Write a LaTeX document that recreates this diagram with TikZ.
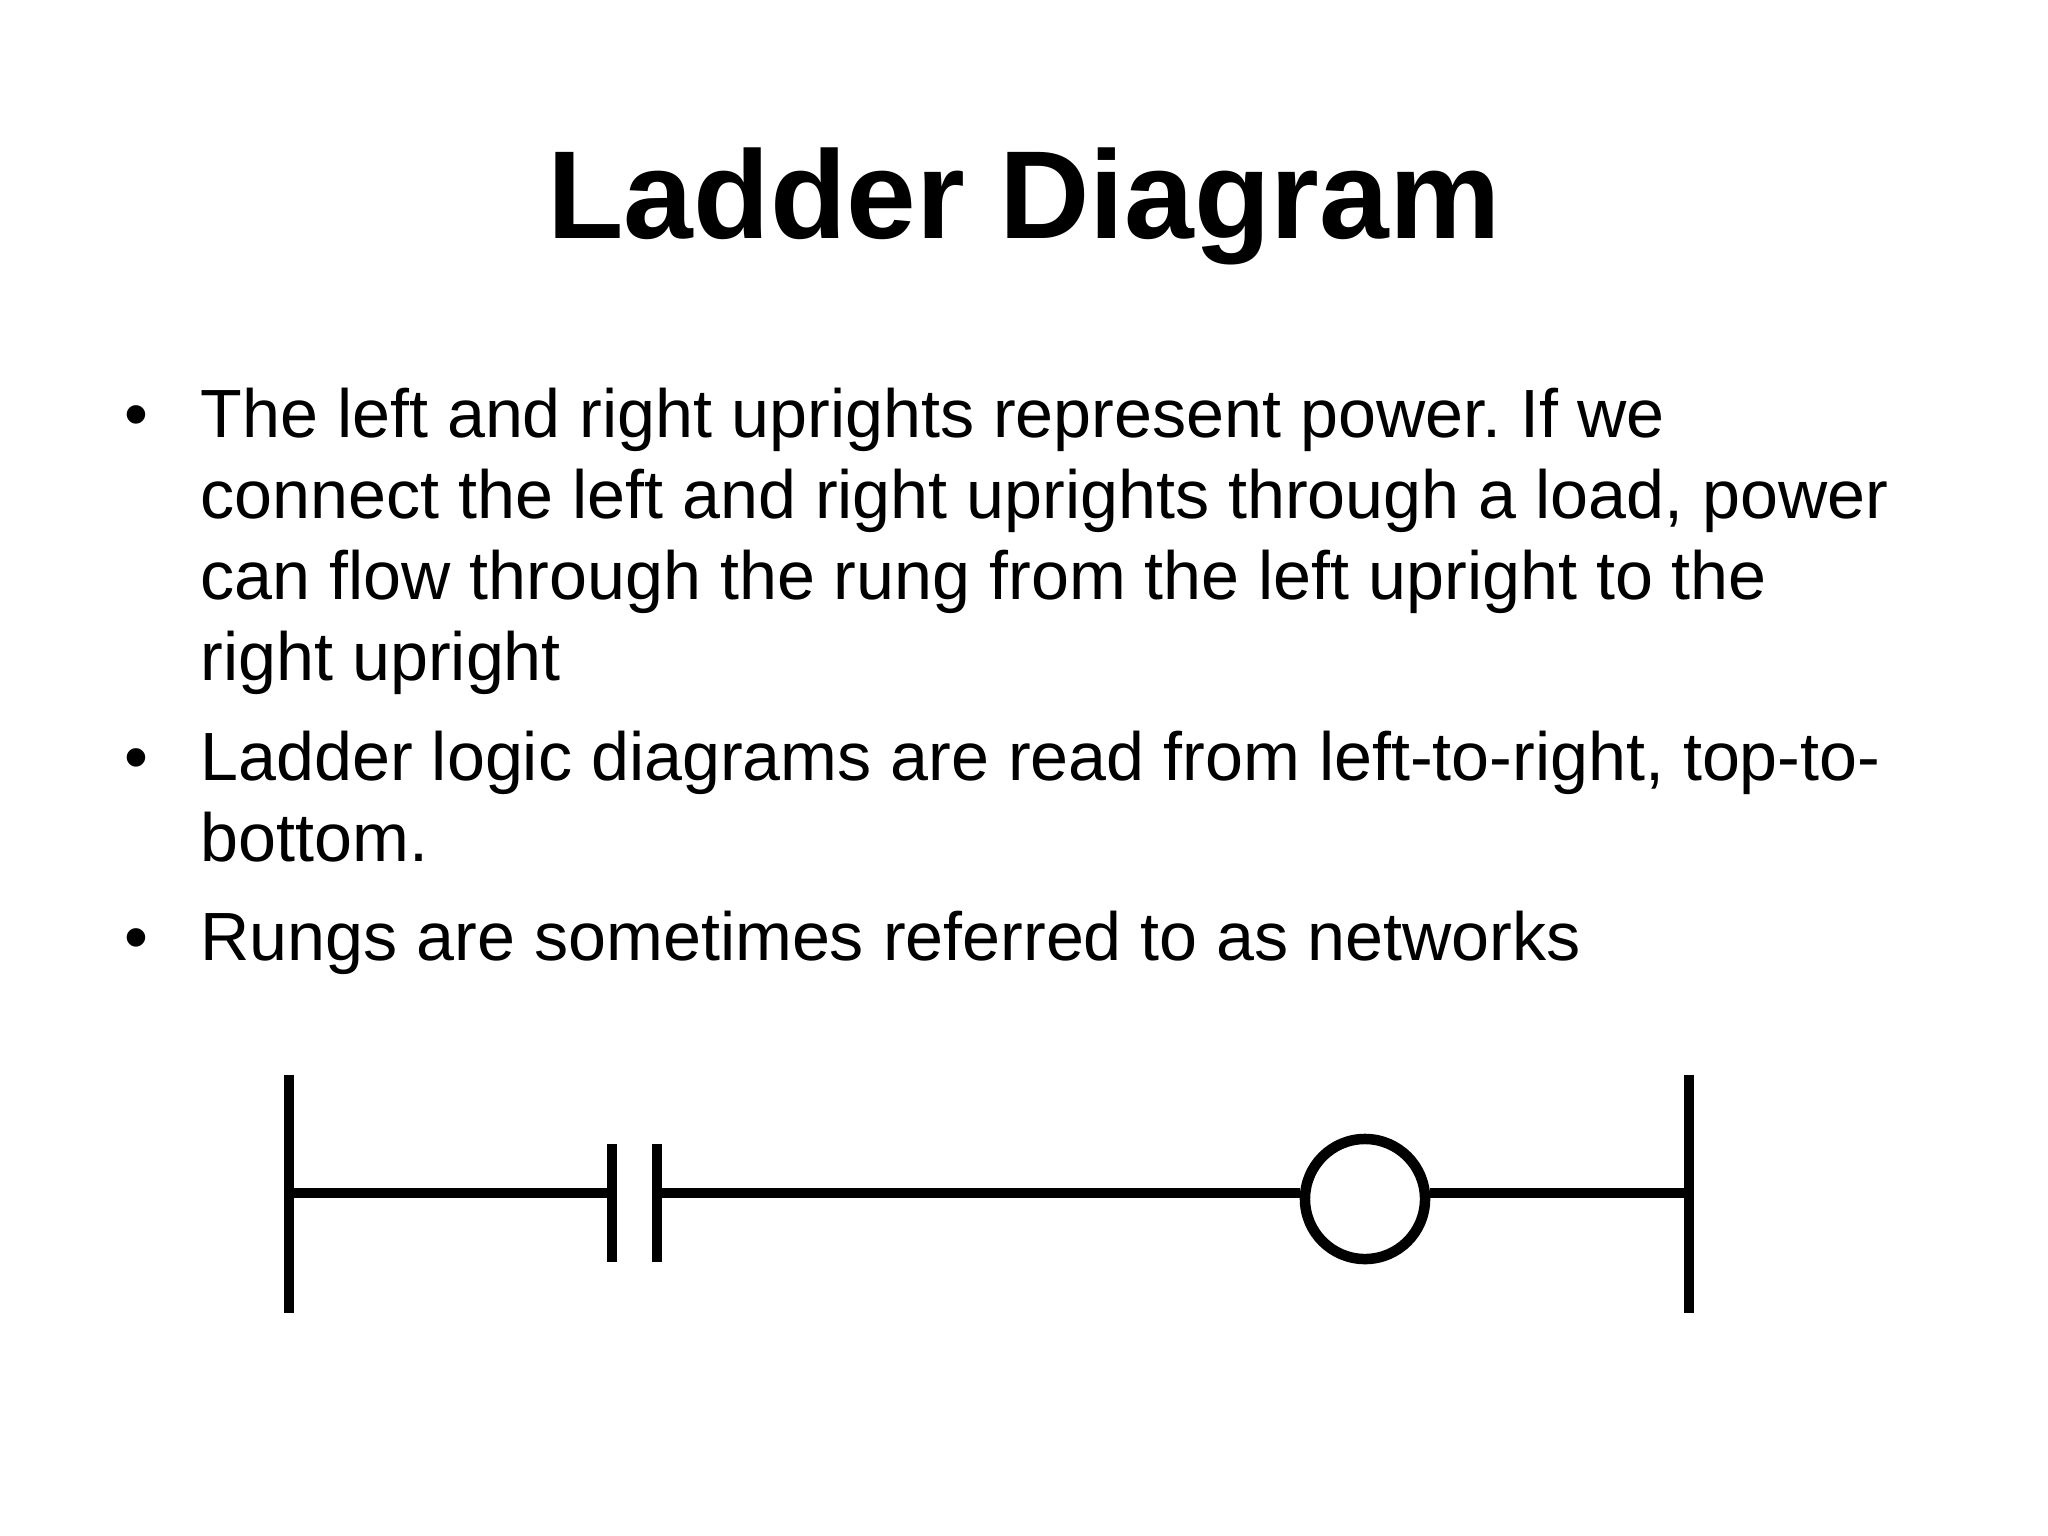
\documentclass[tikz,border=0pt]{standalone}
\usepackage{fontspec}
\setmainfont{Liberation Sans}
\frenchspacing
\begin{document}
\begin{tikzpicture}[x=0.01cm,y=-0.01cm,
  ln/.style={anchor=base west,inner sep=0,font=\fontsize{19.4pt}{22pt}\selectfont},
  wire/.style={line width=0.105cm}]
\useasboundingbox (0,0) rectangle (2048,1536);
\node[font=\fontsize{35.6pt}{42pt}\selectfont\bfseries,anchor=base] (title) at (1024,238) {Ladder Diagram};
\node[ln] (b1) at (124,437) {•};
\node[ln] (l1) at (200,437) {The left and right uprights represent power. If we};
\node[ln] (l2) at (200,518) {connect the left and right uprights through a load, power};
\node[ln] (l3) at (200,599) {can flow through the rung from the left upright to the};
\node[ln] (l4) at (200,680) {right upright};
\node[ln] (b2) at (124,780) {•};
\node[ln] (l5) at (200,780) {Ladder logic diagrams are read from left-to-right, top-to-};
\node[ln] (l6) at (200,861) {bottom.};
\node[ln] (b3) at (124,960) {•};
\node[ln] (l7) at (200,960) {Rungs are sometimes referred to as networks};
\coordinate (lt) at (289,1075); \coordinate (lb) at (289,1313);
\coordinate (rt) at (1689,1075); \coordinate (rb) at (1689,1313);
\coordinate (la) at (289,1193); \coordinate (ra) at (1689,1193);
\coordinate (p1t) at (612,1144); \coordinate (p1b) at (612,1262);
\coordinate (p2t) at (657,1144); \coordinate (p2b) at (657,1262);
\coordinate (p1) at (612,1193); \coordinate (p2) at (657,1193);
\node[draw,circle,line width=0.105cm,minimum size=1.2cm,inner sep=0] (coil) at (1365,1199) {};
\draw[wire] (lt) -- (lb);
\draw[wire] (rt) -- (rb);
\draw[wire] (p1t) -- (p1b);
\draw[wire] (p2t) -- (p2b);
\draw[wire] (la) -- (p1);
\draw[wire] (p2) -- (coil.west|-p2);
\draw[wire] (coil.east|-ra) -- (ra);
\end{tikzpicture}
\end{document}
